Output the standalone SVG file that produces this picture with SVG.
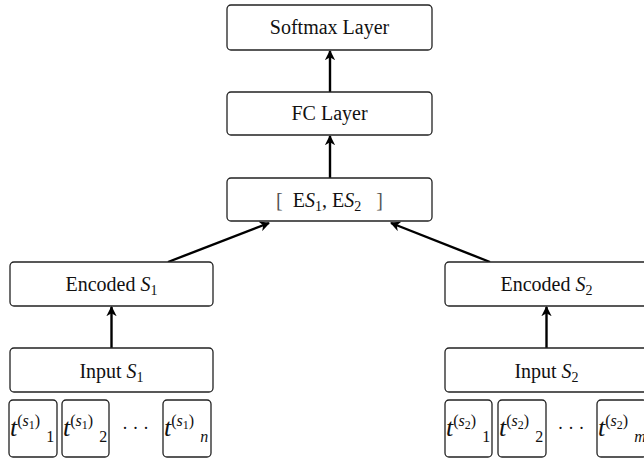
<svg xmlns="http://www.w3.org/2000/svg" width="644" height="459" viewBox="0 0 644 459">
<defs>
<style>
.box{fill:#fff;stroke:#222;stroke-width:1.3}
.lbl{font-family:"Liberation Serif","Times New Roman",serif;font-size:20px;fill:#111;text-anchor:middle}
.tok{font-family:"Liberation Serif","Times New Roman",serif;fill:#111}
.it{font-style:italic}
.edge{stroke:#000;stroke-width:2.4;fill:none;marker-end:url(#ah)}
</style>
<marker id="ah" viewBox="0 0 10 10" refX="9" refY="5" markerWidth="4.3" markerHeight="4.3" markerUnits="strokeWidth" orient="auto">
<path d="M0,0 L10,5 L0,10 L3,5 Z" fill="#000"/>
</marker>
</defs>
<rect width="644" height="459" fill="#fff"/>
<g id="connectors">
<line class="edge" x1="330" y1="92" x2="330" y2="51"/>
<line class="edge" x1="330" y1="178" x2="330" y2="136"/>
<line class="edge" x1="168" y1="262" x2="269" y2="223"/>
<line class="edge" x1="490" y1="262" x2="391" y2="223"/>
<line class="edge" x1="111.5" y1="348" x2="111.5" y2="307"/>
<line class="edge" x1="546.5" y1="348" x2="546.5" y2="307"/>
</g>
<g id="softmax">
<rect class="box" x="227" y="5" width="205" height="45" rx="4"/>
<text class="lbl" x="329.5" y="34">Softmax Layer</text>
</g>
<g id="fc">
<rect class="box" x="227" y="92" width="205" height="43" rx="4"/>
<text class="lbl" x="329.5" y="120">FC Layer</text>
</g>
<g id="concat">
<rect class="box" x="227" y="178" width="205" height="43" rx="4"/>
<text class="lbl" x="329.5" y="207" xml:space="preserve"><tspan fill="#555">[</tspan>  E<tspan class="it">S</tspan><tspan font-size="14" dy="4">1</tspan><tspan dy="-4">, E</tspan><tspan class="it">S</tspan><tspan font-size="14" dy="4">2</tspan><tspan dy="-4">   </tspan><tspan fill="#555">]</tspan></text>
</g>
<g id="encoded1">
<rect class="box" x="10" y="262" width="203" height="44" rx="4"/>
<text class="lbl" x="111.5" y="291">Encoded <tspan class="it">S</tspan><tspan font-size="14" dy="4">1</tspan></text>
</g>
<g id="input1">
<rect class="box" x="10" y="348" width="203" height="44" rx="4"/>
<text class="lbl" x="111.5" y="378">Input <tspan class="it">S</tspan><tspan font-size="14" dy="4">1</tspan></text>
</g>
<g id="encoded2">
<rect class="box" x="445" y="262" width="203" height="44" rx="4"/>
<text class="lbl" x="546.5" y="291">Encoded <tspan class="it">S</tspan><tspan font-size="14" dy="4">2</tspan></text>
</g>
<g id="input2">
<rect class="box" x="445" y="348" width="203" height="44" rx="4"/>
<text class="lbl" x="546.5" y="378">Input <tspan class="it">S</tspan><tspan font-size="14" dy="4">2</tspan></text>
</g>
<g id="tok1_1">
<rect class="box" x="9" y="400" width="48" height="57" rx="4"/>
<text class="tok" x="10" y="436"><tspan class="it" font-size="26">t</tspan><tspan font-size="16" dy="-10">(</tspan><tspan class="it" font-size="16">s</tspan><tspan font-size="12" dy="3">1</tspan><tspan font-size="16" dy="-3">)</tspan><tspan font-size="16" dx="6" dy="16">1</tspan></text>
</g>
<g id="tok1_2">
<rect class="box" x="62" y="400" width="47" height="57" rx="4"/>
<text class="tok" x="63" y="436"><tspan class="it" font-size="26">t</tspan><tspan font-size="16" dy="-10">(</tspan><tspan class="it" font-size="16">s</tspan><tspan font-size="12" dy="3">1</tspan><tspan font-size="16" dy="-3">)</tspan><tspan font-size="16" dx="6" dy="16">2</tspan></text>
</g>
<g id="dots1">
<text class="lbl" x="135.5" y="433.5" style="font-size:18px">· · ·</text>
</g>
<g id="tok1_n">
<rect class="box" x="163" y="400" width="48" height="57" rx="4"/>
<text class="tok" x="164" y="436"><tspan class="it" font-size="26">t</tspan><tspan font-size="16" dy="-10">(</tspan><tspan class="it" font-size="16">s</tspan><tspan font-size="12" dy="3">1</tspan><tspan font-size="16" dy="-3">)</tspan><tspan class="it" font-size="16" dx="6" dy="16">n</tspan></text>
</g>
<g id="tok2_1">
<rect class="box" x="445" y="400" width="47" height="57" rx="4"/>
<text class="tok" x="446" y="436"><tspan class="it" font-size="26">t</tspan><tspan font-size="16" dy="-10">(</tspan><tspan class="it" font-size="16">s</tspan><tspan font-size="12" dy="3">2</tspan><tspan font-size="16" dy="-3">)</tspan><tspan font-size="16" dx="6" dy="16">1</tspan></text>
</g>
<g id="tok2_2">
<rect class="box" x="498" y="400" width="48" height="57" rx="4"/>
<text class="tok" x="499" y="436"><tspan class="it" font-size="26">t</tspan><tspan font-size="16" dy="-10">(</tspan><tspan class="it" font-size="16">s</tspan><tspan font-size="12" dy="3">2</tspan><tspan font-size="16" dy="-3">)</tspan><tspan font-size="16" dx="6" dy="16">2</tspan></text>
</g>
<g id="dots2">
<text class="lbl" x="571" y="433.5" style="font-size:18px">· · ·</text>
</g>
<g id="tok2_m">
<rect class="box" x="597" y="400" width="50" height="57" rx="4"/>
<text class="tok" x="598" y="436"><tspan class="it" font-size="26">t</tspan><tspan font-size="16" dy="-10">(</tspan><tspan class="it" font-size="16">s</tspan><tspan font-size="12" dy="3">2</tspan><tspan font-size="16" dy="-3">)</tspan><tspan class="it" font-size="16" dx="6" dy="16">m</tspan></text>
</g>
</svg>
